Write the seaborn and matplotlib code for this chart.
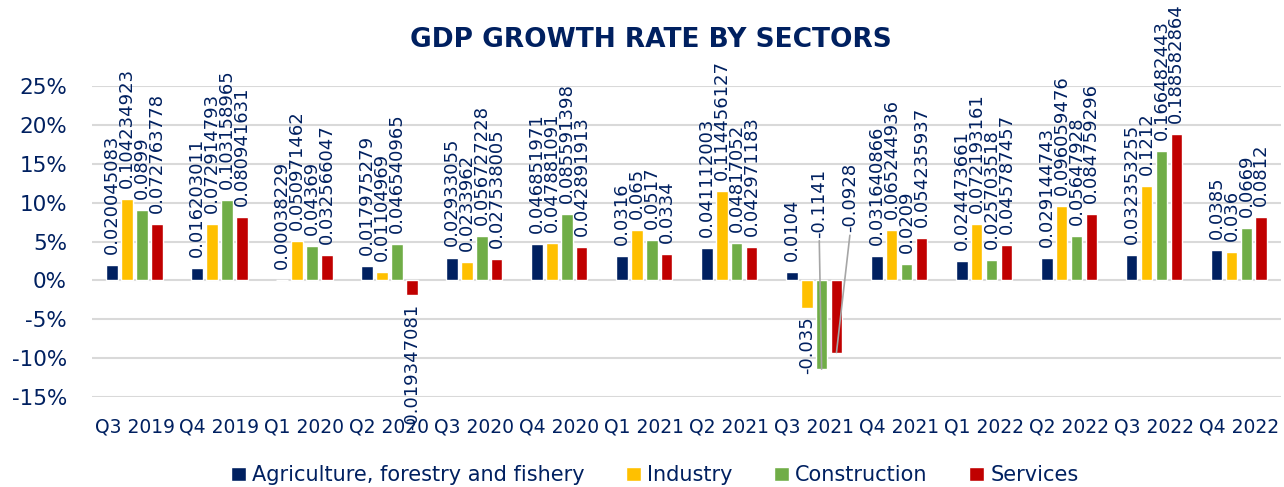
import matplotlib
matplotlib.use("Agg")
import matplotlib.pyplot as plt
import seaborn as sns
import pandas as pd
from matplotlib.ticker import FuncFormatter

quarters = ["Q3 2019", "Q4 2019", "Q1 2020", "Q2 2020", "Q3 2020", "Q4 2020",
            "Q1 2021", "Q2 2021", "Q3 2021", "Q4 2021", "Q1 2022", "Q2 2022",
            "Q3 2022", "Q4 2022"]
sectors = ["Agriculture, forestry and fishery", "Industry", "Construction", "Services"]

agriculture = [0.020045083, 0.016203011, 0.00038229, 0.017975279, 0.02933055, 0.046851971,
               0.0316, 0.041112003, 0.0104, 0.031640866, 0.024473661, 0.029144743,
               0.032353255, 0.0385]
industry = [0.104234923, 0.072914793, 0.050971462, 0.01104969, 0.0233962, 0.047881091,
            0.065, 0.114456127, -0.035, 0.065244936, 0.072193161, 0.096059476,
            0.1212, 0.036]
construction = [0.0899, 0.103158965, 0.04369, 0.046540965, 0.056727228, 0.085591398,
                0.0517, 0.04817052, -0.1141, 0.0209, 0.025703518, 0.05647928,
                0.166482443, 0.0669]
services = [0.072763778, 0.080941631, 0.032566047, -0.019347081, 0.027538005, 0.042891913,
            0.0334, 0.042971183, -0.0928, 0.054235937, 0.045787457, 0.084759296,
            0.188582864, 0.0812]

yticks = [-0.15, -0.10, -0.05, 0.0, 0.05, 0.10, 0.15, 0.20, 0.25]

NAVY = "#002060"
palette = ["#002060", "#FFC000", "#70AD47", "#C00000"]

series = [agriculture, industry, construction, services]
df = pd.DataFrame({
    "quarter": [q for s in series for q in quarters],
    "sector": [name for name, s in zip(sectors, series) for _ in s],
    "growth": [v for s in series for v in s],
})

sns.set_style("white")
plt.rcParams["font.family"] = ["DejaVu Sans"]

fig = plt.figure(figsize=(12.84, 4.87), dpi=100)
ax = fig.add_axes([0.0717, 0.1848, 0.9263, 0.6386])

sns.barplot(data=df, x="quarter", y="growth", hue="sector", palette=palette,
            width=0.7, gap=0.22, ax=ax, errorbar=None, saturation=1)

ax.set_ylim(-0.15, 0.25)
ax.set_xlim(-0.5, len(quarters) - 0.5)
ax.set_yticks(yticks)
ax.yaxis.set_major_formatter(FuncFormatter(lambda v, p: f"{v * 100:.0f}%"))
ax.grid(axis="y", color="#D9D9D9", linewidth=1.5)
ax.set_axisbelow(True)
for sp in ax.spines.values():
    sp.set_visible(False)
ax.tick_params(axis="y", length=0, pad=18, labelsize=15.5, labelcolor=NAVY)
ax.tick_params(axis="x", length=0, pad=15, labelsize=13.5, labelcolor=NAVY)
ax.set_xlabel("")
ax.set_ylabel("")

LABEL_SIZE = 13
# value labels; the two large Q3 2021 declines get callouts above the axis
callout = {(2, 8): (0.06, 0.055), (3, 8): (0.42, 0.062)}
for si, container in enumerate(ax.containers):
    vals = series[si]
    pos = ["" if (si, qi) in callout or v < 0 else str(v) for qi, v in enumerate(vals)]
    neg = ["" if (si, qi) in callout or v >= 0 else str(v) for qi, v in enumerate(vals)]
    ax.bar_label(container, labels=pos, rotation=90, padding=8,
                 fontsize=LABEL_SIZE, color=NAVY, clip_on=False)
    ax.bar_label(container, labels=neg, rotation=90, padding=6,
                 fontsize=LABEL_SIZE, color=NAVY, clip_on=False)
    for (s, qi), (lx, ly) in callout.items():
        if s != si:
            continue
        bar = container.patches[qi]
        bx = bar.get_x() + bar.get_width() / 2
        by = vals[qi]
        ax.plot([qi + lx, bx], [ly - 0.004, by], color="#A6A6A6", lw=1.2,
                zorder=5, clip_on=False)
        ax.text(qi + lx, ly, str(vals[qi]), rotation=90, ha="center", va="bottom",
                fontsize=LABEL_SIZE, color=NAVY, clip_on=False)

handles, labs = ax.get_legend_handles_labels()
ax.get_legend().remove()
fig.legend(handles, labs, loc="lower center", bbox_to_anchor=(0.51, -0.035), ncol=4,
           frameon=False, fontsize=15, labelcolor=NAVY, handlelength=0.7,
           handleheight=0.7, handletextpad=0.3, columnspacing=2.0)

fig.suptitle("GDP GROWTH RATE BY SECTORS", x=0.507, y=0.945, fontsize=19,
             fontweight="bold", color=NAVY)

fig.savefig("out.png", dpi=100)
